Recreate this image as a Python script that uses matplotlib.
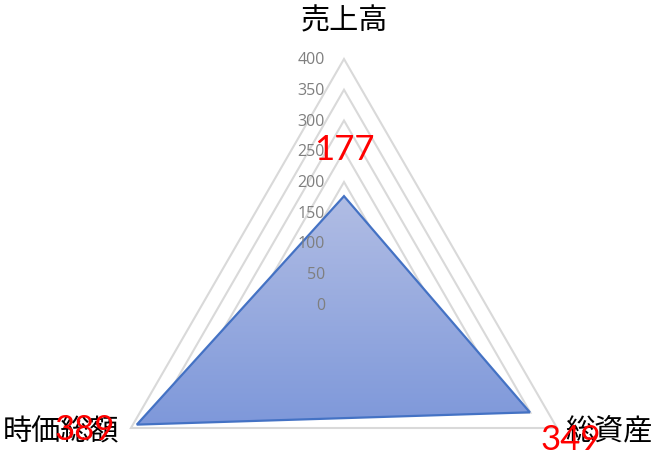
import numpy as np
import matplotlib.pyplot as plt
from matplotlib.patches import Polygon
from matplotlib.colors import LinearSegmentedColormap

plt.rcParams['font.family'] = ['Noto Sans CJK JP', 'DejaVu Sans']

categories = ["売上高", "総資産", "時価総額"]
values = [177, 349, 389]
ticks = [0, 50, 100, 150, 200, 250, 300, 350, 400]

# axis directions: top, lower right, lower left
angles = np.deg2rad([90, -30, 210])

fig = plt.figure(figsize=(6.58, 4.60), dpi=100)
ax = fig.add_axes([0, 0, 1, 1])
px = 400 / 246.0
ax.set_xlim(-344 * px, (658 - 344) * px)
ax.set_ylim(-(460 - 306) * px, 306 * px)
ax.axis("off")

# gridlines
for t in ticks[1:]:
    gx = t * np.cos(angles)
    gy = t * np.sin(angles)
    ax.add_patch(Polygon(np.column_stack([gx, gy]), closed=True, fill=False,
                         edgecolor="#d9d9d9", lw=1.5, zorder=1))

# data polygon with vertical gradient
dx = np.array(values) * np.cos(angles)
dy = np.array(values) * np.sin(angles)
poly = Polygon(np.column_stack([dx, dy]), closed=True, facecolor="none",
               edgecolor="#4472c4", lw=1.6, zorder=3)
ax.add_patch(poly)
cmap = LinearSegmentedColormap.from_list("fill", ["#7e98da", "#b1bde4"])
grad = np.linspace(0, 1, 256).reshape(-1, 1)
im = ax.imshow(grad, cmap=cmap, origin="lower", aspect="auto",
               extent=[dx.min(), dx.max(), dy.min(), dy.max()], zorder=2)
im.set_clip_path(poly)

# tick labels along the top axis
for t in ticks:
    ax.text(-19 * px, t, str(t), ha="right", va="center", color="#7f7f7f",
            fontsize=11.5, family=["Open Sans", "DejaVu Sans"], zorder=4)

# category labels
ax.text(0, 285 * px, categories[0], ha="center", va="center", fontsize=21)
ax.text(265 * px, -126 * px, categories[1], ha="center", va="center", fontsize=21)
ax.text(-283 * px, -126 * px, categories[2], ha="center", va="center", fontsize=21)

# data labels
ax.text(dx[0], dy[0] + 47 * px, str(values[0]), ha="center", va="center",
        color="#ff0000", fontsize=25, family=["Lato", "DejaVu Sans"], zorder=5)
ax.text(227 * px, -134 * px, str(values[1]), ha="center", va="center",
        color="#ff0000", fontsize=25, family=["Lato", "DejaVu Sans"], zorder=5)
ax.text(-259 * px, -124 * px, str(values[2]), ha="center", va="center",
        color="#ff0000", fontsize=25, family=["Lato", "DejaVu Sans"], zorder=5)

fig.savefig("out.png", dpi=100, facecolor="white")
